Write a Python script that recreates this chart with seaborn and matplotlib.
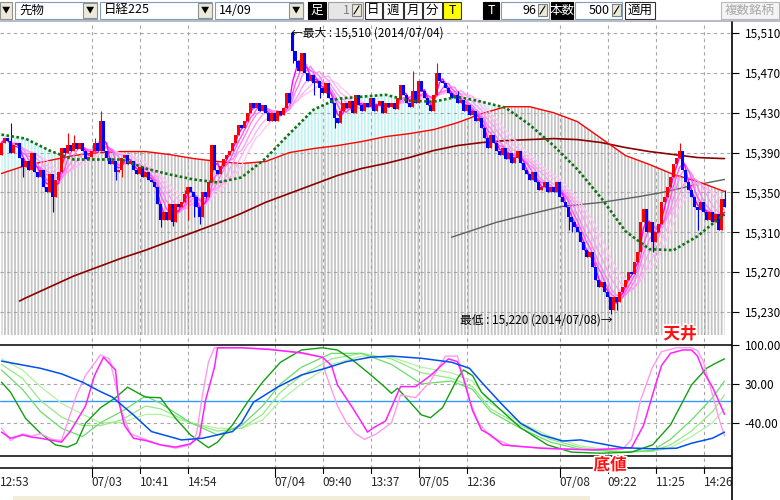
import numpy as np
import pandas as pd
import matplotlib
matplotlib.use("Agg")
import matplotlib.pyplot as plt
import matplotlib.patheffects as pe
from matplotlib.patches import Rectangle
import seaborn as sns

# ---------------- data ----------------
# close of every bar (oldest first)
closes = [
    15400, 15405, 15402, 15390, 15398, 15400, 15385, 15375, 15382, 15372,
    15390, 15370, 15365, 15372, 15355, 15350, 15368, 15345, 15362, 15370,
    15395, 15390, 15398, 15392, 15400, 15394, 15400, 15392, 15384, 15386,
    15392, 15400, 15392, 15422, 15392, 15385, 15378, 15382, 15370, 15372,
    15385, 15388, 15378, 15382, 15372, 15368, 15375, 15365, 15370, 15362,
    15360, 15355, 15338, 15322, 15330, 15322, 15338, 15320, 15338, 15335,
    15340, 15348, 15355, 15350, 15345, 15335, 15325, 15350, 15345, 15360,
    15398, 15372, 15368, 15376, 15384, 15388, 15392, 15400, 15408, 15418,
    15415, 15422, 15430, 15440, 15435, 15440, 15432, 15438, 15430, 15422,
    15430, 15422, 15432, 15428, 15435, 15450, 15440, 15492, 15482, 15472,
    15490, 15470, 15462, 15468, 15460, 15462, 15455, 15450, 15460, 15445,
    15440, 15425, 15420, 15432, 15440, 15435, 15442, 15430, 15448, 15438,
    15432, 15440, 15436, 15445, 15432, 15438, 15442, 15430, 15440, 15436,
    15440, 15434, 15445, 15458, 15448, 15440, 15436, 15452, 15440, 15462,
    15452, 15445, 15438, 15432, 15448, 15470, 15462, 15460, 15455, 15450,
    15445, 15448, 15440, 15443, 15432, 15438, 15428, 15432, 15422, 15425,
    15415, 15405, 15395, 15408, 15400, 15392, 15388, 15395, 15384, 15390,
    15380, 15385, 15392, 15380, 15372, 15368, 15362, 15370, 15360, 15352,
    15355, 15360, 15350, 15355, 15350, 15360, 15345, 15340, 15335, 15325,
    15320, 15315, 15310, 15300, 15292, 15285, 15290, 15275, 15262, 15255,
    15260, 15250, 15245, 15232, 15245, 15240, 15250, 15255, 15262, 15270,
    15268, 15280, 15290, 15320, 15333, 15310, 15320, 15300, 15310, 15318,
    15340, 15345, 15355, 15365, 15378, 15385, 15392, 15372, 15360, 15352,
    15345, 15335, 15332, 15340, 15330, 15322, 15330, 15320, 15328, 15312,
    15343, 15335,
]
first_open = 15388
gap_opens = {97: 15510}
bar_highs = {3: 15420, 22: 15410, 24: 15408, 31: 15405, 33: 15432, 61: 15352,
             63: 15352, 113: 15445, 137: 15472, 145: 15480, 152: 15452,
             226: 15400, 241: 15352}
bar_lows = {7: 15365, 17: 15330, 38: 15362, 40: 15365, 53: 15315, 57: 15316,
            62: 15322, 64: 15325, 66: 15318, 97: 15480, 98: 15476, 104: 15448,
            106: 15445, 111: 15415, 189: 15312, 190: 15310, 203: 15228,
            205: 15232, 217: 15290, 232: 15312}

# moving averages (bar index -> price)
ma_bars = [0, 8, 16, 24, 32, 40, 48, 56, 64, 72, 80, 88, 96, 104, 112, 120,
           128, 136, 144, 152, 160, 168, 176, 184, 192, 200, 208, 216, 224,
           232, 240, 241]
green_ma = [15408, 15404, 15392, 15383, 15383, 15383, 15374, 15368, 15363,
            15360, 15365, 15384, 15409, 15433, 15444, 15446, 15448, 15442,
            15441, 15446, 15441, 15435, 15418, 15397, 15373, 15344, 15311,
            15293, 15292, 15306, 15326, 15328]
red_ma = [15369, 15377, 15382, 15387, 15390, 15391, 15391, 15388, 15384,
          15381, 15379, 15381, 15390, 15394, 15397, 15401, 15406, 15409,
          15413, 15420, 15429, 15436, 15436, 15430, 15421, 15404, 15387,
          15378, 15368, 15361, 15352, 15351]
darkred_bars = [6, 8, 16, 24, 32, 40, 48, 56, 64, 72, 80, 88, 96, 104, 112,
                120, 128, 136, 144, 152, 160, 168, 176, 184, 192, 200, 208,
                216, 224, 232, 240, 241]
darkred_ma = [15241, 15244, 15255, 15266, 15275, 15284, 15292, 15301, 15310,
              15319, 15329, 15340, 15349, 15358, 15367, 15374, 15379, 15385,
              15392, 15397, 15400, 15402, 15403, 15404, 15403, 15400, 15395,
              15391, 15388, 15385, 15384, 15384]
gray_bars = [150, 155, 165, 173, 187, 200, 213, 222, 229, 241]
gray_ma = [15305, 15310, 15320, 15326, 15336, 15340, 15346, 15351, 15356, 15363]
ribbon_windows = [16, 13, 10, 7, 5, 3]
ribbon_colors = ['#ffc8f6', '#ffb4f4', '#ff9cf4', '#ff80f6', '#ff55f8',
                 '#ff00ff']

# oscillator (RCI) lines
blue_bars = [0, 13, 20, 27, 33, 37, 44, 50, 60, 67, 72, 77, 80, 84, 92, 100,
             108, 115, 123, 130, 140, 150, 156, 160, 167, 173, 180, 187, 193,
             200, 207, 217, 225, 230, 237, 241]
blue_rci = [71, 58, 48, 33, 16, 6, -26, -56, -71, -68, -62, -56, -40, -3, 24,
            46, 58, 70, 78, 80, 76, 69, 58, 33, -8, -41, -62, -73, -71, -78,
            -85, -87, -86, -77, -68, -57]
dgreen_bars = [0, 3, 8, 13, 18, 22, 25, 28, 33, 38, 42, 45, 48, 53, 58, 63,
               69, 72, 77, 82, 87, 93, 100, 107, 112, 117, 122, 127, 130, 132,
               140, 143, 147, 152, 154, 157, 160, 167, 173, 182, 190, 200,
               210, 217, 223, 230, 235, 238, 241]
dgreen_rci = [33, 15, -32, -59, -80, -84, -77, -41, -13, 5, 24, 15, 6, 5, -32,
              -62, -85, -75, -44, -3, 33, 69, 91, 95, 91, 73, 51, 28, 13, 22,
              -26, -31, -13, 40, 55, 45, 15, -20, -49, -80, -93, -95, -93,
              -80, -44, 28, 58, 67, 75]
lgreen_bars = [0, 7, 13, 20, 27, 33, 40, 48, 53, 63, 72, 80, 87, 93, 100,
               110, 120, 130, 140, 150, 157, 163, 173, 183, 193, 207, 217,
               223, 230, 237, 241]
lgreen1 = [55, 20, -20, -50, -65, -40, -20, 8, -5, -40, -62, -45, -10, 30, 60,
           85, 85, 65, 30, 35, 20, -20, -50, -75, -88, -93, -90, -70, -35, 5, 35]
lgreen2 = [65, 40, 0, -30, -45, -45, -35, -10, -15, -40, -55, -50, -25, 15,
           45, 75, 85, 75, 50, 40, 25, -15, -45, -70, -85, -93, -91, -80, -55,
           -20, 10]
lgreen3 = [75, 55, 25, -5, -25, -40, -40, -25, -25, -40, -50, -50, -35, 0, 30,
           65, 80, 78, 60, 50, 35, -5, -40, -65, -82, -92, -92, -85, -65, -40,
           -15]
mag_bars = [0, 3, 7, 10, 13, 17, 20, 23, 28, 31, 34, 38, 39, 41, 44, 48, 53,
            58, 63, 66, 68, 71, 72, 80, 89, 100, 107, 110, 112, 117, 120, 122,
            124, 128, 133, 138, 143, 149, 152, 154, 157, 160, 163, 167, 180,
            197, 210, 214, 218, 220, 223, 227, 230, 232, 234, 237, 239, 241]
mag_rci = [-57, -68, -62, -66, -68, -72, -75, -55, -10, 45, 78, 55, 0, -45,
           -68, -72, -80, -84, -78, -65, 0, 60, 95, 95, 92, 86, 78, 63, 28,
           -13, -39, -57, -49, -37, 25, 25, 45, 75, 70, 40, -18, -53, -62,
           -80, -86, -89, -85, -45, 28, 63, 85, 91, 91, 80, 52, 24, 0, -25]
pink_bars = [0, 3, 7, 10, 13, 17, 20, 22, 25, 28, 33, 36, 38, 40, 43, 48, 53,
             58, 63, 65, 67, 69, 71, 80, 89, 100, 107, 108, 112, 115, 118,
             121, 125, 130, 133, 138, 143, 148, 152, 153, 156, 159, 163, 170,
             187, 207, 210, 213, 217, 220, 225, 230, 232, 234, 237, 239, 241]
pink_rci = [-50, -72, -60, -64, -60, -70, -72, -40, 10, 45, 82, 75, 30, -20,
            -60, -70, -80, -86, -80, -60, 10, 70, 95, 95, 93, 85, 78, 50, -10,
            -40, -60, -70, -60, -40, 10, 5, 35, 80, 80, 60, 0, -40, -65, -82,
            -88, -88, -70, 0, 60, 88, 95, 95, 90, 70, 10, -30, -64]

first_label = '12:53'
tick_bars = [30, 46, 62, 91, 107, 123, 139, 155, 186, 202, 218, 234]
tick_labels = ['07/03', '10:41', '14:54', '07/04', '09:40', '13:37', '07/05',
               '12:36', '07/08', '09:22', '11:25', '14:26']
price_ticks = [15230, 15270, 15310, 15350, 15390, 15430, 15470, 15510]
osc_ticks = [100, 30, -40]
osc_labels = ['100.00', '30.00', '-40.00']

# ---------------- figure ----------------
sns.set_theme(style='white')
plt.rcParams['font.family'] = ['Noto Sans CJK JP', 'DejaVu Sans']
plt.rcParams['hatch.linewidth'] = 1.3

W, H = 780, 500
fig = plt.figure(figsize=(7.8, 5.0), dpi=100)
fig.patch.set_facecolor('white')
axw = 732 / W
ax = fig.add_axes([0, (H - 335) / H, axw, (335 - 22) / H])
axo = fig.add_axes([0, (H - 468) / H, axw, (468 - 335) / H])

p_lo, p_hi = 15206.9, 15521.0
xlo, xhi = -0.5, 243.5
grid_kw = dict(color='#a6a6a6', lw=0.8, ls=(0, (3, 3)))

# --- price panel ---
n = len(closes)
bars = np.arange(n)
cl = np.array(closes, dtype=float)
op = np.array([first_open] + closes[:-1], dtype=float)
for k, v in gap_opens.items():
    op[k] = v
hi = np.maximum(op, cl)
lo = np.minimum(op, cl)
for k, v in bar_highs.items():
    hi[k] = max(hi[k], v)
for k, v in bar_lows.items():
    lo[k] = min(lo[k], v)
cols = np.where(cl > op, '#ff0000', '#0000ff')

mb = np.array(ma_bars)
gm = np.array(green_ma, dtype=float)
rm = np.array(red_ma, dtype=float)
ax.fill_between(mb, p_lo, rm, facecolor='none', edgecolor='#c4c4c4',
                hatch='|||||', linewidth=0, zorder=1)
ax.fill_between(mb, rm, gm, where=gm > rm, interpolate=True, facecolor='none',
                edgecolor='#bff2f2', hatch='|||||', linewidth=0, zorder=1)

for yv in price_ticks:
    ax.axhline(yv, zorder=2, **grid_kw)
for b in tick_bars:
    ax.axvline(b, zorder=2, **grid_kw)
    axo.axvline(b, zorder=1, **grid_kw)

sns.lineplot(x=darkred_bars, y=darkred_ma, ax=ax, color='#8b0000',
             linewidth=1.2, sort=False, estimator=None, zorder=3)
sns.lineplot(x=gray_bars, y=gray_ma, ax=ax, color='#606060', linewidth=1.0,
             sort=False, estimator=None, zorder=3)
sns.lineplot(x=ma_bars, y=red_ma, ax=ax, color='#ff0000', linewidth=1.0,
             sort=False, estimator=None, zorder=3)

cs = pd.Series(cl)
for w, c in zip(ribbon_windows, ribbon_colors):
    sns.lineplot(x=bars, y=cs.rolling(w, min_periods=1).mean().values, ax=ax,
                 color=c, linewidth=1.0, sort=False, estimator=None, zorder=3.5)

ax.vlines(bars, lo, hi, colors=cols, linewidth=0.8, zorder=4)
ax.bar(bars, np.maximum(np.abs(cl - op), 1.5), bottom=np.minimum(op, cl),
       width=0.95, color=cols, linewidth=0, zorder=5)

sns.lineplot(x=ma_bars, y=green_ma, ax=ax, color='#137013', linewidth=1.9,
             linestyle=(0, (1.0, 0.9)), sort=False, estimator=None, zorder=6)

ax.text(97 - 0.4, 15510, '←最大 : 15,510 (2014/07/04)', ha='left',
        va='center', fontsize=8.5, color='black', zorder=8)
ax.text(203 + 0.7, 15222, '最低 : 15,220 (2014/07/08)→', ha='right',
        va='center', fontsize=8.5, color='black', zorder=8)

ax.set_xlim(xlo, xhi)
ax.set_ylim(p_lo, p_hi)
ax.set_xticks([])
ax.set_yticks(price_ticks)
ax.set_yticklabels([f'{v:,}' for v in price_ticks])
ax.yaxis.tick_right()
ax.tick_params(axis='y', right=True, left=False, length=5, width=0.8,
               pad=4, labelsize=8.5, colors='black')
for s in ax.spines.values():
    s.set_visible(False)
ax.set_xlabel('')
ax.set_ylabel('')

# --- oscillator panel ---
o_lo, o_hi = -121.6, 118.0
axo.axhline(30, zorder=1, **grid_kw)
axo.axhline(-40, zorder=1, **grid_kw)
axo.axhline(100, color='black', lw=1.1, zorder=2)
axo.axhline(-100, color='black', lw=1.1, zorder=2)
axo.axhline(0, color='#3399ff', lw=1.0, zorder=2)

for yb, yv, c, lw in [(lgreen_bars, lgreen3, '#b0f2a0', 0.9),
                      (lgreen_bars, lgreen2, '#94ea84', 0.9),
                      (lgreen_bars, lgreen1, '#6adc6a', 0.9),
                      (dgreen_bars, dgreen_rci, '#10a010', 1.0),
                      (pink_bars, pink_rci, '#ff99ee', 1.0),
                      (mag_bars, mag_rci, '#ff22ff', 1.1),
                      (blue_bars, blue_rci, '#0050f0', 1.1)]:
    sns.lineplot(x=yb, y=yv, ax=axo, color=c, linewidth=lw, sort=False,
                 estimator=None, zorder=3)

axo.set_xlim(xlo, xhi)
axo.set_ylim(o_lo, o_hi)
axo.set_xticks([])
axo.set_yticks(osc_ticks)
axo.set_yticklabels(osc_labels)
axo.yaxis.tick_right()
axo.tick_params(axis='y', right=True, left=False, length=5, width=0.8,
                pad=4, labelsize=8.5, colors='black')
for k, s in axo.spines.items():
    s.set_visible(k == 'bottom')
axo.spines['bottom'].set_color('black')
axo.spines['bottom'].set_linewidth(1.1)
axo.set_xlabel('')
axo.set_ylabel('')

lab_y = -148.6
axo.text(xlo, lab_y, first_label, ha='left', va='center', fontsize=8.5,
         clip_on=False)
for b, t in zip(tick_bars, tick_labels):
    long_tick = '/' in t
    axo.plot([b, b], [o_lo, o_lo - (9 if long_tick else 5) / 0.555],
             color='black', lw=0.8, clip_on=False)
    axo.text(b, lab_y, t, ha='left', va='center', fontsize=8.5, clip_on=False)

# --- overlay: toolbar, axis line, marks ---
ov = fig.add_axes([0, 0, 1, 1], zorder=20)
ov.set_xlim(0, W)
ov.set_ylim(H, 0)
ov.axis('off')
ov.patch.set_visible(False)


def box(x0, x1, face, edge='#7f9db9', y0=1.5, y1=18.5, lw=0.8):
    ov.add_patch(Rectangle((x0, y0), x1 - x0, y1 - y0, facecolor=face,
                           edgecolor=edge, linewidth=lw))


def txt(x, s, color='black', ha='center', size=9):
    ov.text(x, 10, s, ha=ha, va='center', color=color, fontsize=size)


def spin(x0):
    box(x0, x0 + 9, '#ece9d8', '#808080', y0=4, y1=16)
    ov.plot([x0 + 2, x0 + 7], [14, 6], color='black', lw=0.8)


box(0, 12, '#ece9d8', '#909090')
txt(6, '▼', size=6)
for fx0, fx1, s in [(15, 97, '先物'), (100, 212, '日経225'), (215, 303, '14/09')]:
    box(fx0, fx1, 'white')
    txt(fx0 + 4, s, ha='left')
    box(fx1 - 14, fx1, '#ece9d8', '#909090', y0=2.5, y1=17.5)
    txt(fx1 - 7, '▼', size=6)
box(308, 326, 'black', 'black')
txt(317, '足', color='white')
box(328, 363, '#e6e6e6', '#a0a0a0')
txt(350, '1', color='#808080', ha='right')
spin(352)
for bx0, bx1, s, face in [(365, 382, '日', 'white'), (383, 403, '週', 'white'),
                          (404, 422, '月', 'white'), (423, 442, '分', 'white'),
                          (443, 461, 'T', '#ffff00')]:
    box(bx0, bx1, face, '#303030')
    txt((bx0 + bx1) / 2, s)
box(483, 499, 'black', 'black')
txt(491, 'T', color='white')
box(501, 549, 'white', '#7f9db9')
txt(536, '96', ha='right')
spin(538)
box(551, 573, 'black', 'black')
txt(562, '本数', color='white')
box(575, 622, 'white', '#7f9db9')
txt(610, '500', ha='right')
spin(612)
box(625, 655, 'white', '#303030')
txt(640, '適用')
box(721, 779, '#f4f4f4', '#b8b8b8')
txt(750, '複数銘柄', color='#a8a8a8')
ov.plot([0, W], [20.8, 20.8], color='#b8bcc4', lw=1.5)

ov.plot([732, 732], [22, H], color='black', lw=1.2)
ov.add_patch(Rectangle((13, 496), 577, 4, facecolor='#f2edd8', edgecolor='none'))

halo = [pe.withStroke(linewidth=2.5, foreground='white')]
ov.text(680, 334, '天井', ha='center', va='center', fontsize=12,
        fontweight='bold', color='#ff1010', path_effects=halo)
ov.text(610, 465, '底値', ha='center', va='center', fontsize=12,
        fontweight='bold', color='#ff1010', path_effects=halo)

fig.savefig('out.png', dpi=100)
